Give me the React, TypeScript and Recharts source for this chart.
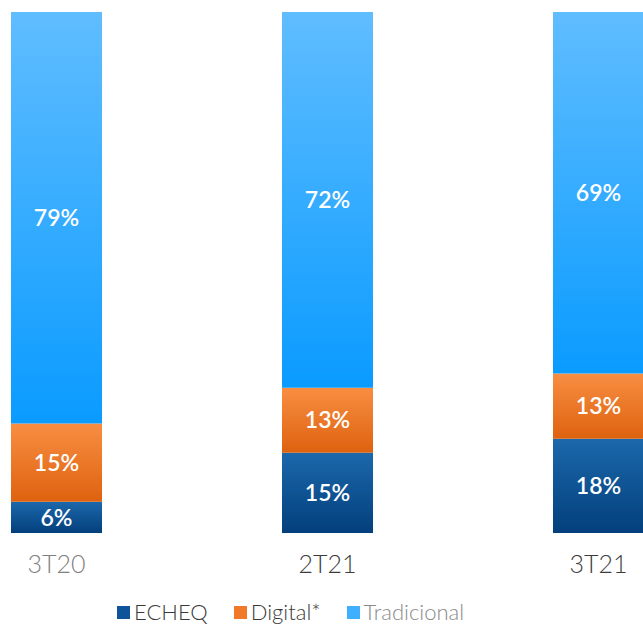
import { Bar, BarChart, LabelList, XAxis, YAxis } from "recharts";

const periods = ["3T20", "2T21", "3T21"];
const echeq = [6.0, 15.4, 18.1];
const digital = [15.0, 12.5, 12.5];
const tradicional = [79.0, 72.1, 69.4];
const periodLabelColors = ["#808080", "#3c3c3c", "#3c3c3c"];

const seriesNames = ["ECHEQ", "Digital*", "Tradicional"];
const legendTextColors = ["#3a3a3a", "#3a3a3a", "#8a8a8a"];

const data = periods.map((p, i) => ({
  period: p,
  echeq: echeq[i],
  digital: digital[i],
  tradicional: tradicional[i],
}));

const FONT = "Lato, 'Open Sans', sans-serif";

const pctLabel = (v: unknown) => `${Math.round(Number(v))}%`;

function PeriodTick(props: any) {
  const { x, y, payload, index } = props;
  return (
    <text
      x={x}
      y={y + 32}
      textAnchor="middle"
      fontFamily={FONT}
      fontWeight={300}
      fontSize={25}
      fill={periodLabelColors[index] ?? "#3c3c3c"}
    >
      {payload.value}
    </text>
  );
}

const labelStyle = {
  fill: "#ffffff",
  fontSize: 23,
  fontWeight: 600,
  fontFamily: FONT,
};

export default function App() {
  const swatchColors = ["#0f549a", "#f07a2a", "#3fb0ff"];
  return (
    <div
      style={{
        position: "absolute",
        left: 0,
        top: 0,
        width: 643,
        height: 628,
        overflow: "hidden",
        background: "#ffffff",
      }}
    >
      <div style={{ position: "absolute", left: -79, top: 0 }}>
        <BarChart
          width={813}
          height={628}
          data={data}
          margin={{ top: 12, right: 0, left: 0, bottom: 65 }}
          barCategoryGap={0}
        >
          <defs>
            <linearGradient id="gTrad" x1="0" y1="0" x2="0" y2="1">
              <stop offset="0%" stopColor="#60bdff" />
              <stop offset="100%" stopColor="#0a9bff" />
            </linearGradient>
            <linearGradient id="gDigital" x1="0" y1="0" x2="0" y2="1">
              <stop offset="0%" stopColor="#f88e42" />
              <stop offset="100%" stopColor="#de620f" />
            </linearGradient>
            <linearGradient id="gEcheq" x1="0" y1="0" x2="0" y2="1">
              <stop offset="0%" stopColor="#1b68ab" />
              <stop offset="100%" stopColor="#033f7c" />
            </linearGradient>
          </defs>
          <XAxis
            dataKey="period"
            axisLine={false}
            tickLine={false}
            height={30}
            interval={0}
            tick={<PeriodTick />}
          />
          <YAxis hide domain={[0, 100]} />
          <Bar dataKey="echeq" stackId="a" barSize={91} fill="url(#gEcheq)" isAnimationActive={false}>
            <LabelList dataKey="echeq" position="center" formatter={pctLabel} style={labelStyle} />
          </Bar>
          <Bar dataKey="digital" stackId="a" barSize={91} fill="url(#gDigital)" isAnimationActive={false}>
            <LabelList dataKey="digital" position="center" formatter={pctLabel} style={labelStyle} />
          </Bar>
          <Bar dataKey="tradicional" stackId="a" barSize={91} fill="url(#gTrad)" isAnimationActive={false}>
            <LabelList dataKey="tradicional" position="center" formatter={pctLabel} style={labelStyle} />
          </Bar>
        </BarChart>
      </div>
      <div
        style={{
          position: "absolute",
          left: 117,
          top: 599,
          height: 26,
          display: "flex",
          alignItems: "center",
          fontFamily: FONT,
          fontWeight: 300,
          fontSize: 22,
          lineHeight: "26px",
        }}
      >
        {seriesNames.map((name, i) => (
          <div key={name} style={{ display: "flex", alignItems: "center", marginRight: 26 }}>
            <svg width={13} height={13} style={{ marginRight: 4 }}>
              <rect width={13} height={13} fill={swatchColors[i]} />
            </svg>
            <span style={{ color: legendTextColors[i] }}>{name}</span>
          </div>
        ))}
      </div>
    </div>
  );
}
